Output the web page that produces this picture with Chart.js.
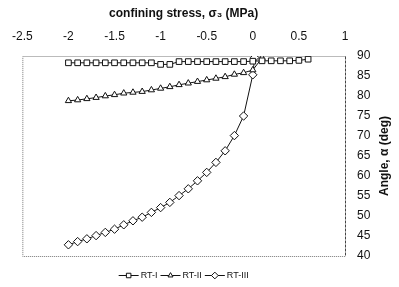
<!DOCTYPE html>
<html lang="en">
<head>
<meta charset="UTF-8">
<title>Angle vs confining stress</title>
<script src="https://cdn.jsdelivr.net/npm/chart.js"></script>
<style>
  html, body { margin: 0; padding: 0; background: #fff; }
  #wrap { width: 399px; height: 287px; }
</style>
</head>
<body>
<div id="wrap"><canvas id="chart" width="399" height="287"></canvas></div>
<script>
// series (stress in MPa, angle in deg)
const seriesNames = ['RT-I', 'RT-II', 'RT-III'];

const stressI = [-2, -1.9, -1.8, -1.7, -1.6, -1.5, -1.4, -1.3, -1.2, -1.1, -1, -0.9, -0.8, -0.7,
                 -0.6, -0.5, -0.4, -0.3, -0.2, -0.1, 0, 0.1, 0.2, 0.3, 0.4, 0.5, 0.6];
const angleI = [88.3, 88.3, 88.3, 88.3, 88.3, 88.3, 88.3, 88.3, 88.3, 88.3, 87.9, 87.9, 88.6, 88.6,
                88.6, 88.6, 88.6, 88.6, 88.6, 88.6, 88.7, 88.8, 88.8, 88.8, 88.8, 88.9, 89.2];

const stressII = [-2, -1.9, -1.8, -1.7, -1.6, -1.5, -1.4, -1.3, -1.2, -1.1, -1, -0.9, -0.8, -0.7,
                  -0.6, -0.5, -0.4, -0.3, -0.2, -0.1, 0, 0.1];
const angleII = [78.8, 79.0, 79.3, 79.6, 80.0, 80.3, 80.7, 80.9, 81.1, 81.5, 81.9, 82.3, 82.8, 83.2,
                 83.6, 84.0, 84.4, 84.8, 85.4, 85.8, 86.5, 89.5];

const stressIII = [-2, -1.9, -1.8, -1.7, -1.6, -1.5, -1.4, -1.3, -1.2, -1.1, -1, -0.9, -0.8, -0.7,
                   -0.6, -0.5, -0.4, -0.3, -0.2, -0.1, 0, 0.02];
const angleIII = [42.8, 43.6, 44.3, 45.1, 45.9, 46.7, 47.8, 48.8, 49.7, 50.9, 52.1, 53.4, 55.1, 56.8,
                  58.8, 60.9, 63.4, 66.3, 70.1, 75.0, 85.3, 89.6];

const xTickMin = -2.5, xTickMax = 1, xTickStep = 0.5;
const yTickMin = 40, yTickMax = 90, yTickStep = 5;

const markerStyles = ['rect', 'triangle', 'rectRot'];
const markerSizes = [4, 3.6, 4.2];

const FONT = "'Liberation Sans', Arial, sans-serif";

function pts(xs, ys) {
  return xs.map((x, i) => ({ x: x, y: ys[i] }));
}

const allX = [stressI, stressII, stressIII];
const allY = [angleI, angleII, angleIII];

const datasets = seriesNames.map((name, i) => ({
  label: name,
  data: pts(allX[i], allY[i]),
  showLine: true,
  borderColor: '#111',
  borderWidth: 1,
  pointStyle: markerStyles[i],
  pointRadius: markerSizes[i],
  pointBackgroundColor: '#fff',
  pointBorderColor: '#111',
  pointBorderWidth: 1,
  tension: 0
}));

// box round the plot + rotated y title + the legend row
const decor = {
  id: 'decor',
  beforeDatasetsDraw(chart) {
    const { ctx, chartArea: a } = chart;
    ctx.save();
    ctx.lineWidth = 1;
    ctx.strokeStyle = '#777';
    ctx.setLineDash([1, 1]);
    ctx.beginPath();
    ctx.moveTo(a.right + 0.5, a.top + 0.5);
    ctx.lineTo(a.left + 0.5, a.top + 0.5);
    ctx.lineTo(a.left + 0.5, a.bottom + 0.5);
    ctx.lineTo(a.right + 0.5, a.bottom + 0.5);
    ctx.stroke();
    ctx.strokeStyle = '#444';
    ctx.setLineDash([3, 1]);
    ctx.beginPath();
    ctx.moveTo(a.right + 0.5, a.top + 0.5);
    ctx.lineTo(a.right + 0.5, a.bottom + 0.5);
    ctx.stroke();
    ctx.restore();
  },
  afterDraw(chart) {
    const { ctx, chartArea: a } = chart;
    ctx.save();
    // y axis title, reads bottom to top
    ctx.font = 'bold 12px ' + FONT;
    ctx.fillStyle = '#111';
    ctx.textAlign = 'center';
    ctx.textBaseline = 'middle';
    ctx.translate(385, (a.top + a.bottom) / 2);
    ctx.rotate(-Math.PI / 2);
    ctx.fillText('Angle, \u03b1 (deg)', 0, 0);
    ctx.restore();

    // legend
    ctx.save();
    ctx.font = '9px ' + FONT;
    const lineW = 20, gapA = 2, gapB = 3;
    const widths = seriesNames.map(n => lineW + gapA + ctx.measureText(n).width);
    const total = widths.reduce((s, w) => s + w, 0) + gapB * (widths.length - 1);
    let x = (a.left + a.right) / 2 - total / 2;
    const y = 275;
    seriesNames.forEach((n, i) => {
      ctx.strokeStyle = '#111';
      ctx.lineWidth = 1;
      ctx.setLineDash([]);
      ctx.beginPath();
      ctx.moveTo(x, y + 0.5);
      ctx.lineTo(x + lineW, y + 0.5);
      ctx.stroke();
      ctx.fillStyle = '#fff';
      Chart.helpers.drawPoint(ctx, {
        pointStyle: markerStyles[i], radius: markerSizes[i] * 0.8, borderWidth: 1, rotation: 0
      }, x + lineW / 2, y + 0.5);
      ctx.fillStyle = '#111';
      ctx.textAlign = 'left';
      ctx.textBaseline = 'middle';
      ctx.fillText(n, x + lineW + gapA, y + 1);
      x += widths[i] + gapB;
    });
    ctx.restore();
  }
};

new Chart(document.getElementById('chart'), {
  type: 'scatter',
  data: { datasets: datasets },
  options: {
    responsive: false,
    animation: false,
    layout: { padding: { left: 22, right: 0, top: 0, bottom: 31 } },
    plugins: {
      legend: { display: false },
      tooltip: { enabled: false }
    },
    scales: {
      x: {
        type: 'linear',
        position: 'top',
        min: xTickMin,
        max: xTickMax,
        grid: { display: false, drawTicks: false },
        border: { display: false },
        ticks: {
          stepSize: xTickStep,
          padding: 12,
          color: '#111',
          font: { family: FONT, size: 12 },
          maxRotation: 0,
          callback: v => String(v)
        },
        title: {
          display: true,
          text: 'confining stress, \u03c3\u2083 (MPa)',
          color: '#111',
          font: { family: FONT, size: 12, weight: 'bold' },
          padding: { top: 6, bottom: 0 }
        },
        afterFit(scale) { scale.height = 56; }
      },
      y: {
        type: 'linear',
        position: 'right',
        min: yTickMin,
        max: yTickMax,
        grid: { display: false, drawTicks: false },
        border: { display: false },
        ticks: {
          stepSize: yTickStep,
          padding: 12,
          color: '#111',
          font: { family: FONT, size: 12 }
        },
        afterFit(scale) { scale.width = 54; }
      }
    }
  },
  plugins: [decor]
});
</script>
</body>
</html>
